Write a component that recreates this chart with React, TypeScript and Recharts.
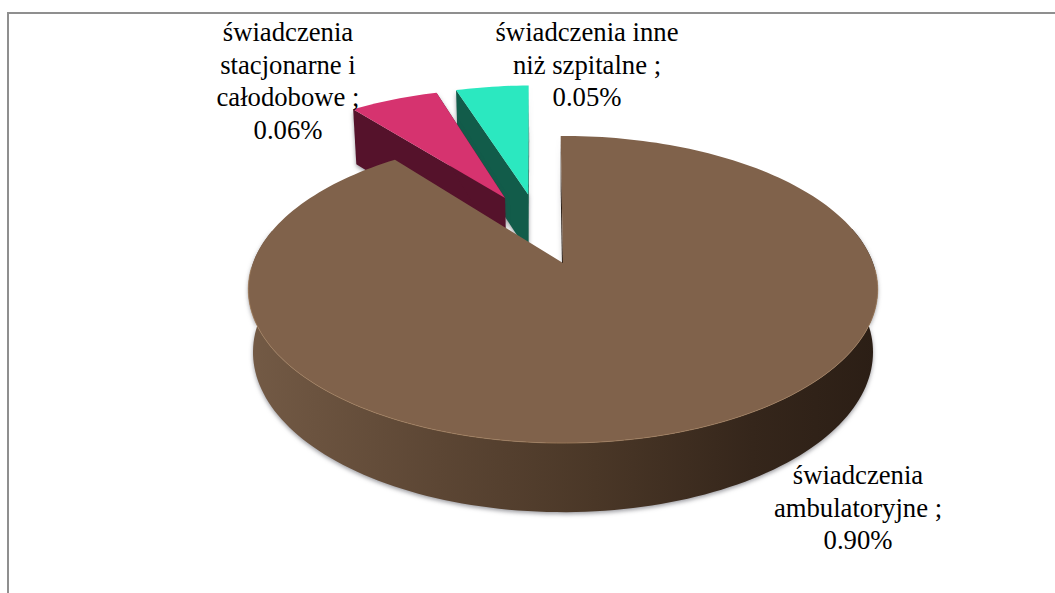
import React from "react";
import { PieChart, Pie, Cell } from "recharts";

// Paint order is back to front, so the slices run counter-clockwise from 12 o'clock.
const categories = ["świadczenia inne niż szpitalne", "świadczenia stacjonarne i całodobowe", "świadczenia ambulatoryjne"];
const values = [0.05, 0.06, 0.9];
const labelLines = [
  ["świadczenia inne", "niż szpitalne ;"],
  ["świadczenia", "stacjonarne i", "całodobowe ;"],
  ["świadczenia", "ambulatoryjne ;"],
];
const topColors = ["#2be8c0", "#d6336f", "#80624b"];
const wallColors = ["#125c4a", "#55122b", "#4a3727"];

const data = categories.map((name, i) => ({ name, value: values[i], lines: labelLines[i], wall: wallColors[i], idx: i }));

// perspective model of the tilted disc
const K = 0.1726;
const SQ = 149;
const DEPTH0 = 61.5;
const DEPTHM = 1.042;
const BASEX = 0.985;
const explode = [
  [-0.122, -0.5],
  [-0.2023, -0.4716],
  [0, 0],
];
// small per-slice angle correction of the drawn rim [start, end], degrees
const angleTweak = [
  [1, 0.2],
  [0, -0.8],
  [-1.2, 0.5],
];
const labelAnchor = [
  [587, 41],
  [288, 41],
  [858, 484],
];
const LINE = 32.6;

type P = { cx: number; cy: number; outerRadius: number; startAngle: number; endAngle: number; fill: string };

const topPt = (u: number, v: number, cx: number, cy: number, R: number) => {
  const w = 1 - K * v;
  return [cx + (R * u) / w, cy + (SQ * v) / w];
};
const botPt = (u: number, v: number, cx: number, cy: number, R: number) => {
  const w = 1 - K * v;
  const X = (R * u) / w;
  const Y = (SQ * v) / w;
  return [cx + X * BASEX, cy + DEPTH0 + Y * DEPTHM];
};
const path = (pts: number[][]) => "M" + pts.map((p) => p[0].toFixed(2) + " " + p[1].toFixed(2)).join("L") + "Z";
const line = (pts: number[][]) => "M" + pts.map((p) => p[0].toFixed(2) + " " + p[1].toFixed(2)).join("L");

function Slice3D(props: any) {
  const { cx, cy, outerRadius: R, fill } = props as P;
  const src = (props.payload ?? props) as any;
  const idx: number = src.idx ?? props.idx ?? 0;
  const wall: string = src.wall ?? props.wall;
  const startAngle = (props as P).startAngle + angleTweak[idx][0];
  const endAngle = (props as P).endAngle + angleTweak[idx][1];
  const [du, dv] = explode[idx];
  const N = Math.max(8, Math.ceil(Math.abs(endAngle - startAngle) / 1.5));
  const rim: number[][] = [];
  for (let i = 0; i <= N; i++) {
    const a = ((startAngle + ((endAngle - startAngle) * i) / N) * Math.PI) / 180;
    rim.push([du + Math.cos(a), dv - Math.sin(a)]);
  }
  const T = (p: number[]) => topPt(p[0], p[1], cx, cy, R);
  const B = (p: number[]) => botPt(p[0], p[1], cx, cy, R);
  const apex = [du, dv];
  const first = rim[0];
  const last = rim[rim.length - 1];
  const top = path([T(apex), ...rim.map(T)]);
  const front = rim.filter((p) => p[1] > -0.25);
  const showOuter = front.length > 1;
  const gid = "wallGrad" + idx;
  const highlight = rim.filter((p) => p[1] > 0.02);
  return (
    <g>
      <defs>
        <linearGradient id={gid} gradientUnits="userSpaceOnUse" x1={250} y1={0} x2={878} y2={0}>
          <stop offset="0" stopColor="#735a45" />
          <stop offset="0.3" stopColor="#5c4634" />
          <stop offset="0.55" stopColor="#4a3727" />
          <stop offset="0.8" stopColor="#35261b" />
          <stop offset="1" stopColor="#2b1e15" />
        </linearGradient>
      </defs>
      <g style={{ filter: "drop-shadow(0px 2px 2px rgba(60,60,70,0.5))" }}>
        {showOuter && <path d={path([...front.map(T), ...[...front].reverse().map(B)])} fill={`url(#${gid})`} />}
        <path d={path([T(apex), T(last), B(last), B(apex)])} fill={showOuter ? "#2b1e15" : wall} />
        {!showOuter && <path d={path([T(apex), T(first), B(first), B(apex)])} fill={wall} />}
      </g>
      <path d={top} fill={fill} />
      {highlight.length > 1 && <path d={line(highlight.map(T))} fill="none" stroke="#a5815f" strokeOpacity={0.7} strokeWidth={1} />}
    </g>
  );
}

function SliceLabel(props: any) {
  const i: number = props.payload?.idx ?? props.index ?? 0;
  const lines: string[] = props.payload?.lines ?? labelLines[i];
  const [x, y] = labelAnchor[i];
  const all = [...lines, `${Number(props.value).toFixed(2)}%`];
  return (
    <text x={x} y={y} textAnchor="middle" fontFamily="'Liberation Serif', serif" fontSize={26.7} fill="#000">
      {all.map((t, k) => (
        <tspan key={k} x={x} y={y + k * LINE}>
          {t}
        </tspan>
      ))}
    </text>
  );
}

export default function App() {
  return (
    <div style={{ position: "absolute", left: 0, top: 0, width: 1055, height: 593, background: "#fff", overflow: "hidden" }}>
      <div style={{ position: "absolute", left: 7, top: 12, width: 1060, height: 600, borderLeft: "2px solid #8f8f8f", borderTop: "2px solid #8f8f8f" }} />
      <div style={{ position: "absolute", left: 0, top: 0 }}>
        <PieChart width={1055} height={593} margin={{ top: 0, right: 0, bottom: 0, left: 0 }}>
          <Pie
            data={data}
            dataKey="value"
            nameKey="name"
            cx={563}
            cy={263}
            innerRadius={0}
            outerRadius={310}
            startAngle={90}
            endAngle={450}
            stroke="none"
            isAnimationActive={false}
            shape={Slice3D}
            label={SliceLabel}
            labelLine={false}
          >
            {data.map((d, i) => (
              <Cell key={d.name} fill={topColors[i]} />
            ))}
          </Pie>
        </PieChart>
      </div>
    </div>
  );
}
